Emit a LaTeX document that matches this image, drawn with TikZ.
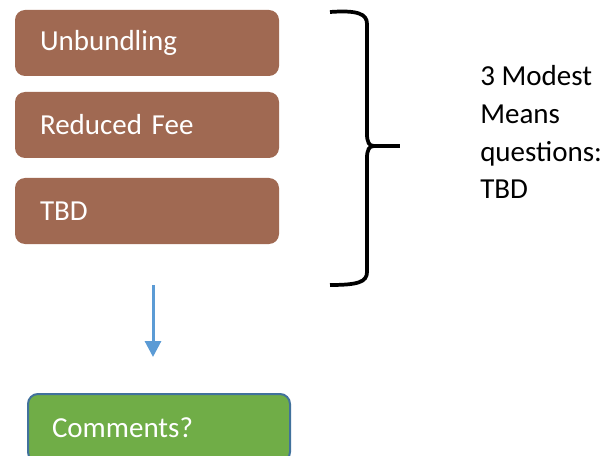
\documentclass[tikz,border=0pt]{standalone}
\usepackage{fontspec}
\setmainfont{Carlito}
\usepackage{tikz}
\usetikzlibrary{arrows.meta}

\definecolor{feebrown}{RGB}{160,105,82}
\definecolor{okgreen}{RGB}{112,173,71}
\definecolor{okborder}{RGB}{65,113,156}
\definecolor{flowblue}{RGB}{91,155,213}

\begin{document}
\begin{tikzpicture}[x=0.75pt, y=-0.75pt,
    font=\fontsize{21.75pt}{28.3pt}\selectfont,
    option/.style={fill=feebrown, text=white, rounded corners=7.5pt,
        minimum width=198pt, minimum height=49.5pt, inner xsep=18.75pt,
        text width=160.5pt, align=left},
    result/.style={fill=okgreen, draw=okborder, line width=1.5pt, text=white,
        rounded corners=7.5pt, minimum width=196.5pt, minimum height=51pt,
        inner xsep=18pt, text width=160.5pt, align=left}]
            \useasboundingbox (0,0) rectangle (610,456);
            \clip (0,0) rectangle (610,456);
            \node[option] (unbundling) at (147,43) {Unbundling};
            \node[option] (reduced) at (147,125) {Reduced Fee};
            \node[option] (tbd) at (147,211) {TBD};
            \node[result] (comments) at (159,428) {Comments?};
            \node[anchor=base west, inner sep=0pt, align=left] (note) at (480,199)
                {3 Modest\\Means\\questions:\\TBD};
            % brace
            \draw[line width=2.8pt] (330,12) .. controls (358,10) and (367,14) .. (367,24)
                -- (367,134) .. controls (367,142) and (369,146) .. (374,146)
                .. controls (369,146) and (367,150) .. (367,158)
                -- (367,272) .. controls (367,282) and (358,285) .. (330,285);
            \coordinate (tip) at (374,146);
            \draw[line width=2.8pt] (tip) -- (400,146);
            % arrow
            \coordinate (down) at (153,285);
            \coordinate (end) at (153,357);
            \draw[flowblue, line width=2.25pt, -{Triangle[width=12pt,length=12pt]}] (down) -- (end);
        \end{tikzpicture}
\end{document}
